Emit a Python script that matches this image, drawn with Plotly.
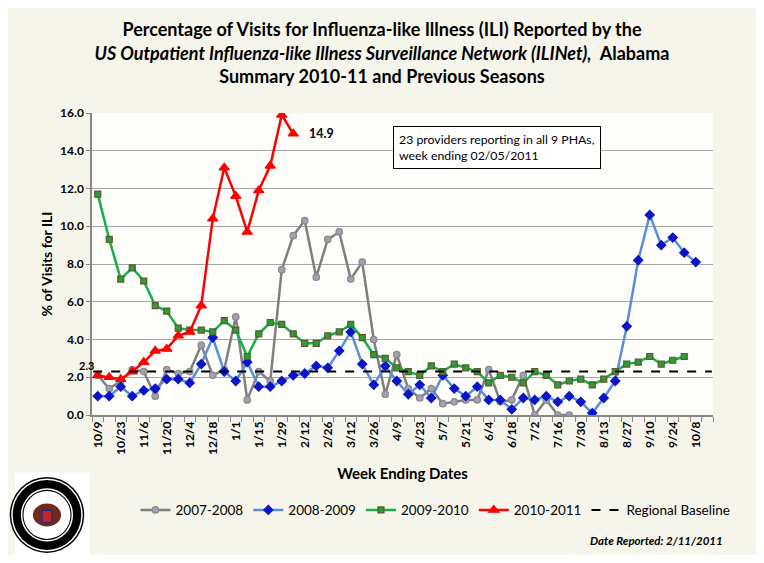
"""ILI visits in Alabama, 2010-11 season against the three previous ones."""

import plotly.graph_objects as go

# week ending dates (10/15 is the empty slot at the right end)
weeks = [
    "10/9", "10/16", "10/23", "10/30", "11/6", "11/13", "11/20", "11/27",
    "12/4", "12/11", "12/18", "12/25", "1/1", "1/8", "1/15", "1/22",
    "1/29", "2/5", "2/12", "2/19", "2/26", "3/5", "3/12", "3/19",
    "3/26", "4/2", "4/9", "4/16", "4/23", "4/30", "5/7", "5/14",
    "5/21", "5/28", "6/4", "6/11", "6/18", "6/25", "7/2", "7/9",
    "7/16", "7/23", "7/30", "8/6", "8/13", "8/20", "8/27", "9/3",
    "9/10", "9/17", "9/24", "10/1", "10/8", "10/15",
]

ili_2007_08 = [
    2.1, 1.4, 1.8, 2.4, 2.3, 1.0, 2.4, 2.2, 2.3, 3.7, 2.1, 2.4, 5.2, 0.8,
    2.3, 1.8, 7.7, 9.5, 10.3, 7.3, 9.3, 9.7, 7.2, 8.1, 4.0, 1.1, 3.2, 1.4,
    0.9, 1.4, 0.6, 0.7, 0.8, 0.8, 2.4, 0.7, 0.8, 2.1, 0.0, 0.8, 0.0, 0.0,
]
ili_2008_09 = [
    1.0, 1.0, 1.5, 1.0, 1.3, 1.4, 1.9, 1.9, 1.7, 2.7, 4.1, 2.3, 1.8, 2.8,
    1.5, 1.5, 1.8, 2.1, 2.2, 2.6, 2.5, 3.4, 4.4, 2.7, 1.6, 2.6, 1.8, 1.1,
    1.6, 0.9, 2.1, 1.4, 1.0, 1.5, 0.8, 0.8, 0.3, 0.9, 0.8, 1.0, 0.7, 1.0,
    0.7, 0.1, 0.9, 1.8, 4.7, 8.2, 10.6, 9.0, 9.4, 8.6, 8.1,
]
ili_2009_10 = [
    11.7, 9.3, 7.2, 7.8, 7.1, 5.8, 5.5, 4.6, 4.5, 4.5, 4.4, 5.0, 4.5, 3.1,
    4.3, 4.9, 4.8, 4.3, 3.8, 3.8, 4.2, 4.4, 4.8, 4.1, 3.2, 3.0, 2.5, 2.3,
    2.1, 2.6, 2.3, 2.7, 2.5, 2.3, 1.7, 2.1, 2.0, 1.7, 2.3, 2.1, 1.6, 1.8,
    1.9, 1.6, 1.9, 2.3, 2.7, 2.8, 3.1, 2.7, 2.9, 3.1,
]
ili_2010_11 = [
    2.1, 2.0, 1.9, 2.3, 2.8, 3.4, 3.5, 4.2, 4.4, 5.8, 10.4, 13.1, 11.6,
    9.7, 11.9, 13.2, 15.9, 14.9,
]
baseline = 2.3

FONT = "Lato"

# name, values, line colour, marker symbol, marker fill, marker edge, marker size
series = [
    ("2007-2008", ili_2007_08, "#7f7f7f", "circle", "#a49fb8", "#8a8a8a", 6.5),
    ("2008-2009", ili_2008_09, "#5b8ed8", "diamond", "#0a14c8", "#0a14c8", 7),
    ("2009-2010", ili_2009_10, "#14b04a", "square", "#2e9a3a", "#5d5a2c", 6),
    ("2010-2011", ili_2010_11, "#ff0000", "triangle-up", "#ff0000", "#ff0000", 9),
]

fig = go.Figure()

for name, vals, lcol, sym, fill, edge, size in series:
    fig.add_trace(
        go.Scatter(
            x=list(range(len(vals))),
            y=vals,
            name=name,
            mode="lines+markers",
            line={"color": lcol, "width": 2.5},
            marker={"symbol": sym, "color": fill, "size": size,
                    "line": {"color": edge, "width": 1.2}},
        )
    )

fig.add_trace(
    go.Scatter(
        x=[-0.4, len(weeks) - 0.6],
        y=[baseline, baseline],
        name="Regional Baseline",
        mode="lines",
        line={"color": "black", "width": 2, "dash": "dash"},
    )
)

# the page body adds an 8px margin, so the figure is drawn 16px smaller
fig.update_layout(
    width=748,
    height=547,
    margin={"l": 84, "r": 43, "t": 105, "b": 140},
    paper_bgcolor="#f6f5ec",
    plot_bgcolor="#fdfdfa",
    font={"family": FONT, "color": "black"},
    title={
        "text": "<b>Percentage of Visits for Influenza-like Illness (ILI) Reported by the<br>"
                "<i>US Outpatient Influenza-like Illness Surveillance Network (ILINet),</i>"
                "  Alabama<br>Summary 2010-11 and Previous Seasons</b>",
        "x": 0.5,
        "xanchor": "center",
        "y": 0.948,
        "yanchor": "top",
        "font": {"size": 18, "family": FONT},
    },
    showlegend=True,
    legend={
        "orientation": "h",
        "x": 0.07,
        "xanchor": "left",
        "y": -0.315,
        "yanchor": "middle",
        "font": {"size": 13.5, "family": FONT},
        "bgcolor": "rgba(0,0,0,0)",
        "traceorder": "normal",
    },
    xaxis={
        "range": [-0.5, len(weeks) - 0.5],
        "tickvals": list(range(0, len(weeks), 2)),
        "ticktext": ["<b>" + w + "</b>" for w in weeks[::2]],
        "tickangle": -90,
        "tickfont": {"size": 12},
        "ticks": "",
        "minor": {"dtick": 1, "tick0": 0.5, "ticks": "outside",
                  "ticklen": 5, "tickcolor": "#888", "showgrid": False},
        "showline": True,
        "linecolor": "#888",
        "linewidth": 1.5,
        "showgrid": False,
        "zeroline": False,
        "title": {"text": "<b>Week Ending Dates</b>", "font": {"size": 15},
                  "standoff": 15},
    },
    yaxis={
        "range": [0, 16],
        "dtick": 2,
        "tickformat": ".1f",
        "tickprefix": "<b>",
        "ticksuffix": "</b>",
        "tickfont": {"size": 12},
        "ticks": "outside",
        "ticklen": 4,
        "tickcolor": "#888",
        "showline": True,
        "linecolor": "#888",
        "linewidth": 1.5,
        "gridcolor": "#a6a6a6",
        "gridwidth": 1,
        "zeroline": False,
        "title": {"text": "<b>% of Visits for ILI</b>", "font": {"size": 14},
                  "standoff": 4},
    },
)

# baseline value, last 2010-11 value, info box, report date
fig.add_annotation(x=0, xref="paper", y=baseline, yref="y", text="<b>2.3</b>",
                   showarrow=False, xanchor="right", yanchor="bottom",
                   xshift=4, yshift=-2, font={"size": 11})
fig.add_annotation(x=len(ili_2010_11) - 1, y=ili_2010_11[-1],
                   text="<b>14.9</b>", showarrow=False, xanchor="left",
                   xshift=14, font={"size": 12.5})
fig.add_annotation(
    x=0.485, xref="paper", y=0.958, yref="paper", xanchor="left", yanchor="top",
    text="23 providers reporting in all 9 PHAs,<br>week ending 02/05/2011",
    align="left", showarrow=False, bgcolor="white", bordercolor="black",
    borderwidth=1, borderpad=5, font={"size": 12.3},
)
fig.add_annotation(
    x=1.019, xref="paper", y=-0.414, yref="paper", xanchor="right", yanchor="middle",
    text="<b><i>Date Reported: 2/11/2011</i></b>", showarrow=False,
    font={"size": 11.5},
)

# simple stand-in for the health department seal on its white patch
fig.add_shape(type="rect", xref="paper", yref="paper",
              x0=-0.124, x1=-0.003, y0=-0.48, y1=-0.19,
              fillcolor="white", line={"width": 0})
seal = [
    (1.0, "black"), (0.96, "white"), (0.92, "black"),
    (0.70, "white"), (0.66, "black"), (0.63, "white"),
]
cx, cy, rx, ry = -0.0725, -0.331, 0.06, 0.126
for k, col in seal:
    fig.add_shape(type="circle", xref="paper", yref="paper",
                  x0=cx - rx * k, x1=cx + rx * k,
                  y0=cy - ry * k, y1=cy + ry * k,
                  fillcolor=col, line={"width": 0})
fig.add_shape(type="circle", xref="paper", yref="paper",
              x0=cx - rx * 0.38, x1=cx + rx * 0.38,
              y0=cy - ry * 0.3, y1=cy + ry * 0.3,
              fillcolor="#6e2a1e", line={"width": 0})
fig.add_shape(type="rect", xref="paper", yref="paper",
              x0=cx - rx * 0.13, x1=cx + rx * 0.13,
              y0=cy - ry * 0.2, y1=cy + ry * 0.12,
              fillcolor="#c0262c", line={"color": "#1a2a8a", "width": 1})

fig.write_html("out.html")
